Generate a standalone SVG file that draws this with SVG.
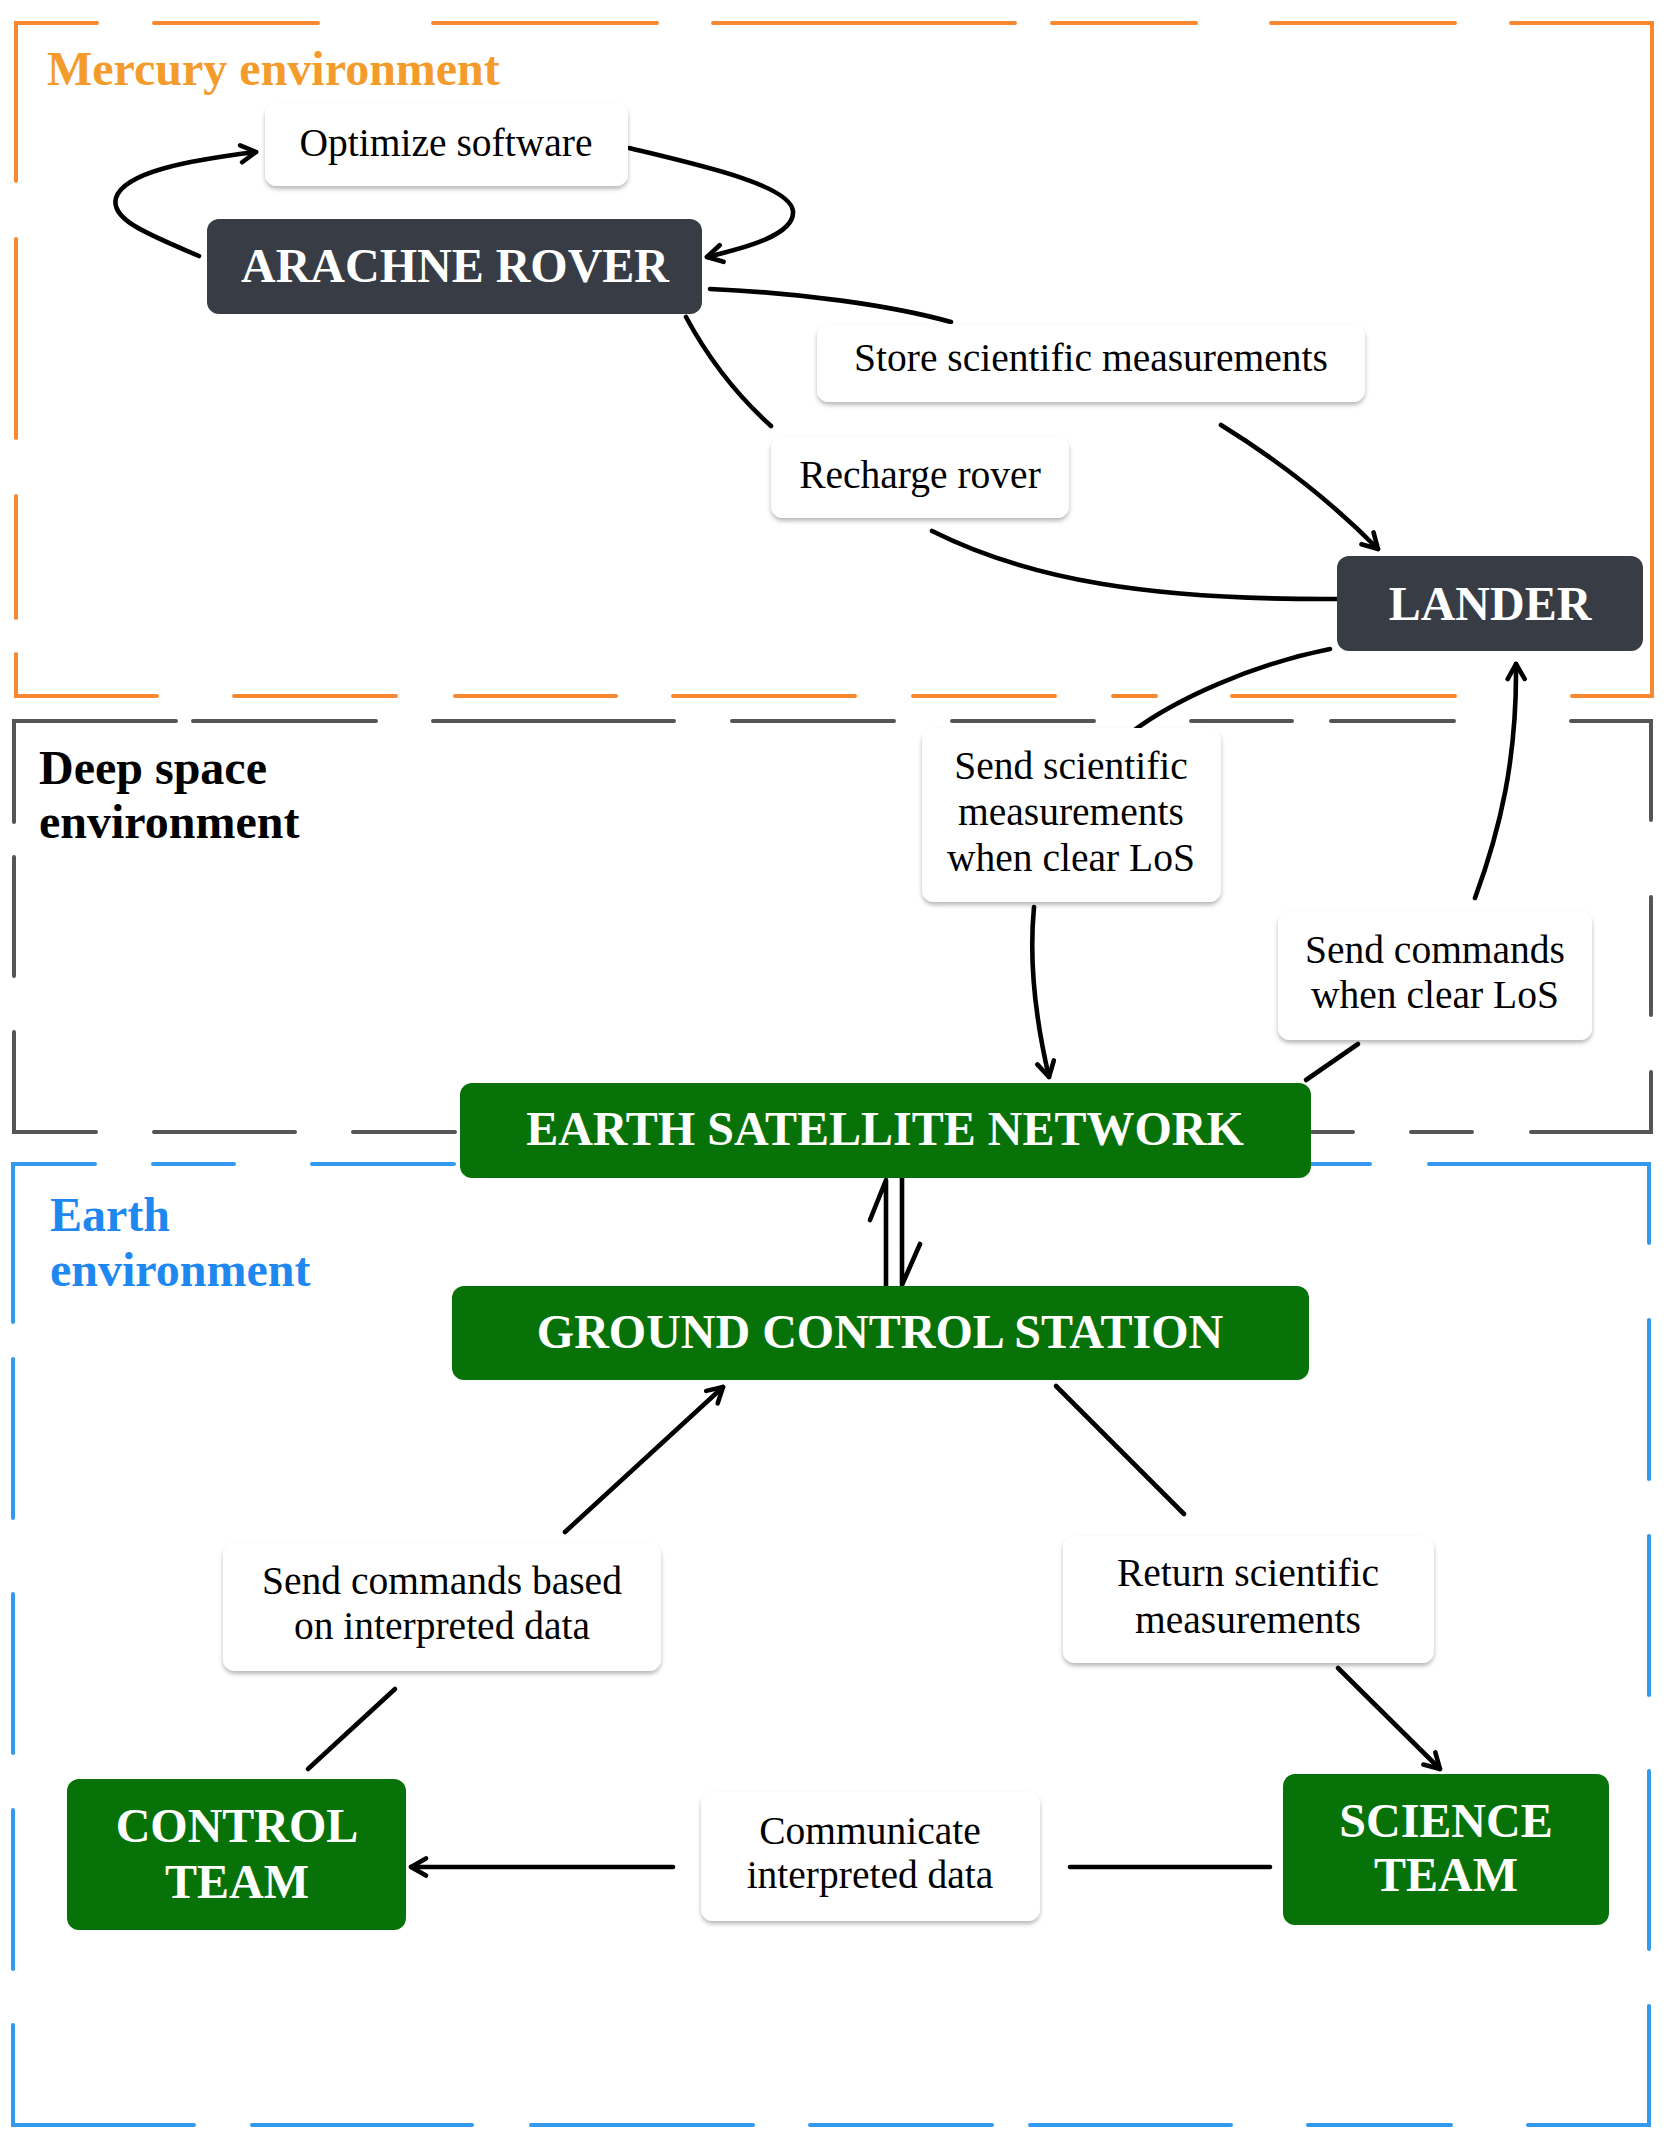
<svg xmlns="http://www.w3.org/2000/svg" width="1668" height="2154" viewBox="0 0 1668 2154">
<style>
.bd{fill:none;stroke-width:4;stroke-linecap:round;stroke-linejoin:miter}
.or{stroke:#F7882F}.gr{stroke:#555555}.bl{stroke:#3399EE}
.zt{font-family:"Liberation Serif","Times New Roman",serif;font-weight:bold;font-size:48px}
.dark{fill:#383C45}
.green{fill:#077207}
.nt{font-family:"Liberation Serif","Times New Roman",serif;font-weight:bold;font-size:48px;fill:#FFFFFF;text-anchor:middle}
.lb{fill:#FFFFFF;filter:url(#sh)}
.lt{font-family:"Liberation Serif","Times New Roman",serif;font-size:39.5px;fill:#000000;text-anchor:middle}
.cn{fill:none;stroke:#000000;stroke-width:4.6;stroke-linecap:round;stroke-linejoin:round}
</style>
<defs>
<filter id="sh" x="-10%" y="-10%" width="120%" height="130%">
<feDropShadow dx="0" dy="3" stdDeviation="2" flood-color="#000000" flood-opacity="0.28"/>
</filter>
<marker id="ah" viewBox="0 0 24 24" refX="20" refY="12" markerWidth="24" markerHeight="24" markerUnits="userSpaceOnUse" orient="auto">
<path d="M5,3.5 L20,12 L5,20.5" fill="none" stroke="#000000" stroke-width="4.6" stroke-linecap="round" stroke-linejoin="round"/>
</marker>
</defs>
<rect width="1668" height="2154" fill="#FFFFFF"/>

<g id="zone-mercury">
<path class="bd or" d="M16,181 L16,23 L97,23 M154,23 L318,23 M433,23 L657,23 M713,23 L1015,23 M1052,23 L1196,23 M1271,23 L1455,23 M1511,23 L1652,23 L1652,696 L1572,696 M1455,696 L1232,696 M1156,696 L1113,696 M1055,696 L913,696 M855,696 L673,696 M616,696 L455,696 M396,696 L234,696 M157,696 L16,696 L16,654 M16,618 L16,496 M16,438 L16,239"/>
<text class="zt" x="47" y="85" fill="#F39C2C">Mercury environment</text>
</g>

<g id="zone-deepspace">
<path class="bd gr" d="M14,822 L14,721 L176,721 M193,721 L376,721 M433,721 L674,721 M732,721 L894,721 M952,721 L1094,721 M1191,721 L1292,721 M1331,721 L1454,721 M1571,721 L1651,721 L1651,820 M1651,897 L1651,1015 M1651,1072 L1651,1132 L1531,1132 M1472,1132 L1411,1132 M1353,1132 L1312,1132 M455,1132 L353,1132 M295,1132 L154,1132 M96,1132 L14,1132 L14,1032 M14,976 L14,857"/>
<text class="zt" fill="#000000"><tspan x="39" y="784">Deep space</tspan><tspan x="39" y="838">environment</tspan></text>
</g>

<g id="zone-earth">
<path class="bd bl" d="M13,1322 L13,1164 L95,1164 M153,1164 L234,1164 M312,1164 L454,1164 M1309,1164 L1370,1164 M1429,1164 L1649,1164 L1649,1243 M1649,1320 L1649,1479 M1649,1536 L1649,1695 M1649,1771 L1649,1949 M1649,2006 L1649,2125 L1528,2125 M1451,2125 L1308,2125 M1231,2125 L1030,2125 M992,2125 L810,2125 M753,2125 L531,2125 M472,2125 L252,2125 M194,2125 L13,2125 L13,2025 M13,1969 L13,1810 M13,1753 L13,1594 M13,1518 L13,1359"/>
<text class="zt" fill="#1E88F0"><tspan x="50" y="1231">Earth</tspan><tspan x="50" y="1286">environment</tspan></text>
</g>

<g id="connectors">
<path class="cn" d="M199,256 C150,235 110,220 116,198 C124,172 190,160 256,152" marker-end="url(#ah)"/>
<path class="cn" d="M629,148 C700,165 790,185 793,211 C795,235 745,248 707,257" marker-end="url(#ah)"/>
<path class="cn" d="M710,289 C800,293 890,305 951,322"/>
<path class="cn" d="M1221,425 Q1310,480 1378,549" marker-end="url(#ah)"/>
<path class="cn" d="M686,317 Q720,380 771,426"/>
<path class="cn" d="M932,531 C1030,580 1150,600 1337,599"/>
<path class="cn" d="M1330,649 C1250,665 1175,700 1133,731"/>
<path class="cn" d="M1034,907 C1028,970 1038,1030 1049,1077" marker-end="url(#ah)"/>
<path class="cn" d="M1475,898 C1500,830 1517,760 1516,664" marker-end="url(#ah)"/>
<path class="cn" d="M1306,1080 L1358,1044"/>
<path class="cn" d="M886,1286 L886,1180 L870,1220"/>
<path class="cn" d="M902,1178 L902,1285 L920,1244"/>
<path class="cn" d="M1056,1386 L1184,1514"/>
<path class="cn" d="M1338,1668 L1440,1769" marker-end="url(#ah)"/>
<path class="cn" d="M308,1769 L395,1689"/>
<path class="cn" d="M565,1532 L723,1387" marker-end="url(#ah)"/>
<path class="cn" d="M1270,1867 L1070,1867"/>
<path class="cn" d="M673,1867 L411,1867" marker-end="url(#ah)"/>
</g>

<g id="node-rover"><rect class="dark" x="207" y="219" width="495" height="95" rx="12"/><text class="nt" x="455" y="282">ARACHNE ROVER</text></g>
<g id="node-lander"><rect class="dark" x="1337" y="556" width="306" height="95" rx="12"/><text class="nt" x="1490" y="620">LANDER</text></g>
<g id="node-satellite"><rect class="green" x="460" y="1083" width="851" height="95" rx="12"/><text class="nt" x="885" y="1145">EARTH SATELLITE NETWORK</text></g>
<g id="node-ground"><rect class="green" x="452" y="1286" width="857" height="94" rx="12"/><text class="nt" x="880" y="1348">GROUND CONTROL STATION</text></g>
<g id="node-control"><rect class="green" x="67" y="1779" width="339" height="151" rx="12"/><text class="nt"><tspan x="237" y="1842">CONTROL</tspan><tspan x="237" y="1898">TEAM</tspan></text></g>
<g id="node-science"><rect class="green" x="1283" y="1774" width="326" height="151" rx="12"/><text class="nt"><tspan x="1446" y="1837">SCIENCE</tspan><tspan x="1446" y="1891">TEAM</tspan></text></g>

<g id="label-optimize"><rect class="lb" x="265" y="103" width="363" height="83" rx="12"/><text class="lt" x="446" y="156">Optimize software</text></g>
<g id="label-store"><rect class="lb" x="817" y="324" width="548" height="78" rx="12"/><text class="lt" x="1091" y="371">Store scientific measurements</text></g>
<g id="label-recharge"><rect class="lb" x="771" y="436" width="298" height="82" rx="12"/><text class="lt" x="920" y="488">Recharge rover</text></g>
<g id="label-send-sci"><rect class="lb" x="922" y="728" width="299" height="174" rx="12"/><text class="lt"><tspan x="1071" y="779">Send scientific</tspan><tspan x="1071" y="825">measurements</tspan><tspan x="1071" y="871">when clear LoS</tspan></text></g>
<g id="label-send-cmd"><rect class="lb" x="1278" y="911" width="314" height="129" rx="12"/><text class="lt"><tspan x="1435" y="963">Send commands</tspan><tspan x="1435" y="1008">when clear LoS</tspan></text></g>
<g id="label-cmd-based"><rect class="lb" x="223" y="1543" width="438" height="128" rx="12"/><text class="lt"><tspan x="442" y="1594">Send commands based</tspan><tspan x="442" y="1639">on interpreted data</tspan></text></g>
<g id="label-communicate"><rect class="lb" x="701" y="1792" width="339" height="129" rx="12"/><text class="lt"><tspan x="870" y="1844">Communicate</tspan><tspan x="870" y="1888">interpreted data</tspan></text></g>
<g id="label-return"><rect class="lb" x="1063" y="1536" width="371" height="127" rx="12"/><text class="lt"><tspan x="1248" y="1586">Return scientific</tspan><tspan x="1248" y="1633">measurements</tspan></text></g>
</svg>
